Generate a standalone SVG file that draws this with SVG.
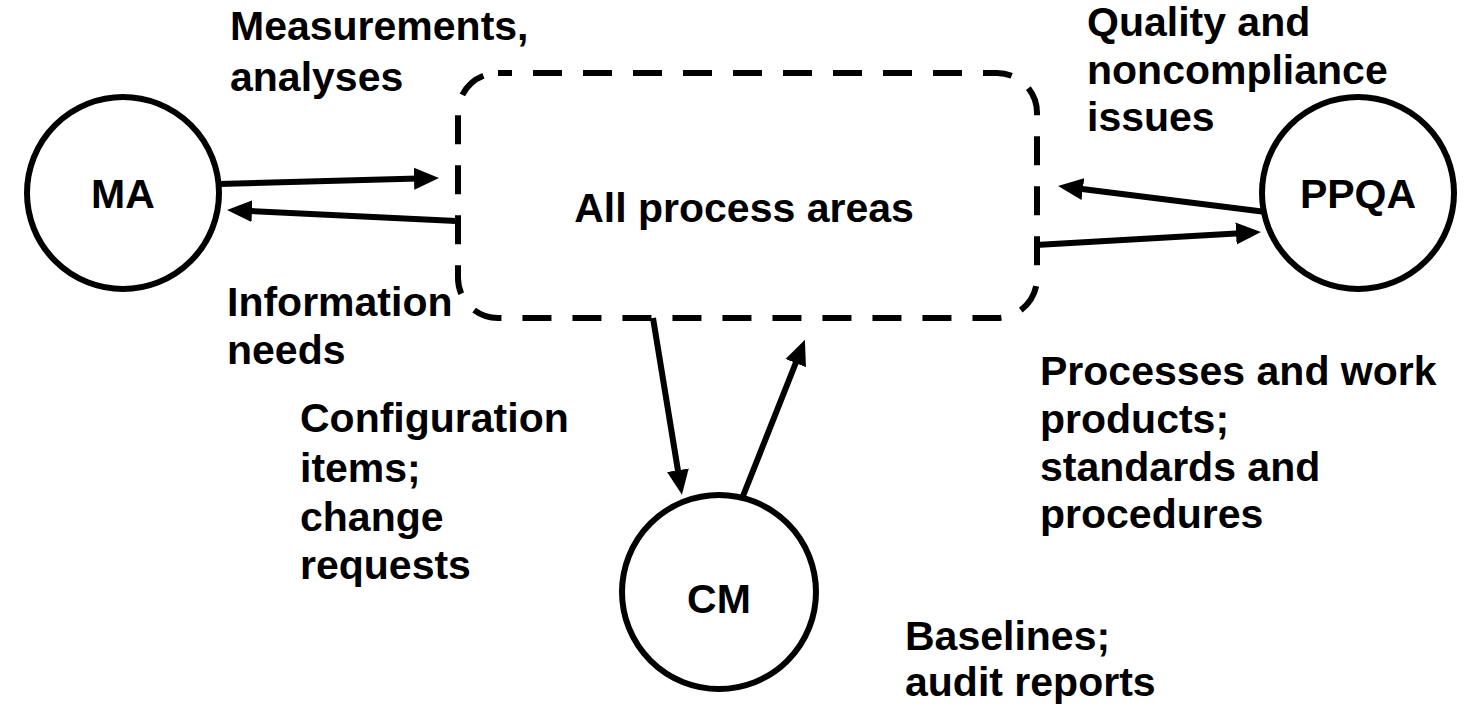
<svg xmlns="http://www.w3.org/2000/svg" width="1481" height="706" viewBox="0 0 1481 706">
<style>
text{font-family:"Liberation Sans",Arial,sans-serif;font-weight:bold;font-size:41px;fill:#000}
.node{fill:#fff;stroke:#000;stroke-width:6}
.box{fill:none;stroke:#000;stroke-width:6;stroke-dasharray:29 21;stroke-dashoffset:15}
.conn{stroke:#000;stroke-width:6;fill:none;marker-end:url(#arr)}
.mid{text-anchor:middle}
</style>
<defs>
<marker id="arr" markerUnits="userSpaceOnUse" markerWidth="26" markerHeight="24" refX="13" refY="11" orient="auto" viewBox="0 0 26 22">
<path d="M0,0 L25,11 L0,22 z" fill="#000"/>
</marker>
</defs>
<g id="all-process-areas">
<path class="box" d="M498,73 H997 A40,40 0 0 1 1037,113 V278 A40,40 0 0 1 997,318 H498 A40,40 0 0 1 458,278 V113 A40,40 0 0 1 498,73 Z"/>
<text x="744" y="222" class="mid">All process areas</text>
</g>
<g id="MA">
<circle class="node" cx="123" cy="193" r="96"/>
<text x="123" y="208" class="mid">MA</text>
</g>
<g id="PPQA">
<circle class="node" cx="1358" cy="193" r="96"/>
<text x="1358" y="208" class="mid">PPQA</text>
</g>
<g id="CM">
<circle class="node" cx="719" cy="592" r="97"/>
<text x="719" y="613" class="mid">CM</text>
</g>
<g id="connectors">
<line class="conn" x1="219" y1="184" x2="427" y2="178.3"/>
<line class="conn" x1="456" y1="221" x2="239" y2="210.5"/>
<line class="conn" x1="1266" y1="212" x2="1070" y2="187.4"/>
<line class="conn" x1="1036" y1="245" x2="1249" y2="232.7"/>
<line class="conn" x1="653" y1="318" x2="680" y2="483"/>
<line class="conn" x1="743" y1="496" x2="800.5" y2="351"/>
</g>
<g id="labels">
<text x="230" y="40">Measurements,</text>
<text x="230" y="91">analyses</text>
<text x="1087" y="36">Quality and</text>
<text x="1087" y="84">noncompliance</text>
<text x="1087" y="131">issues</text>
<text x="227" y="316">Information</text>
<text x="227" y="364">needs</text>
<text x="300" y="432">Configuration</text>
<text x="300" y="482">items;</text>
<text x="300" y="531">change</text>
<text x="300" y="579">requests</text>
<text x="1040" y="385">Processes and work</text>
<text x="1040" y="433">products;</text>
<text x="1040" y="481">standards and</text>
<text x="1040" y="528">procedures</text>
<text x="905" y="650">Baselines;</text>
<text x="905" y="696">audit reports</text>
</g>
</svg>
